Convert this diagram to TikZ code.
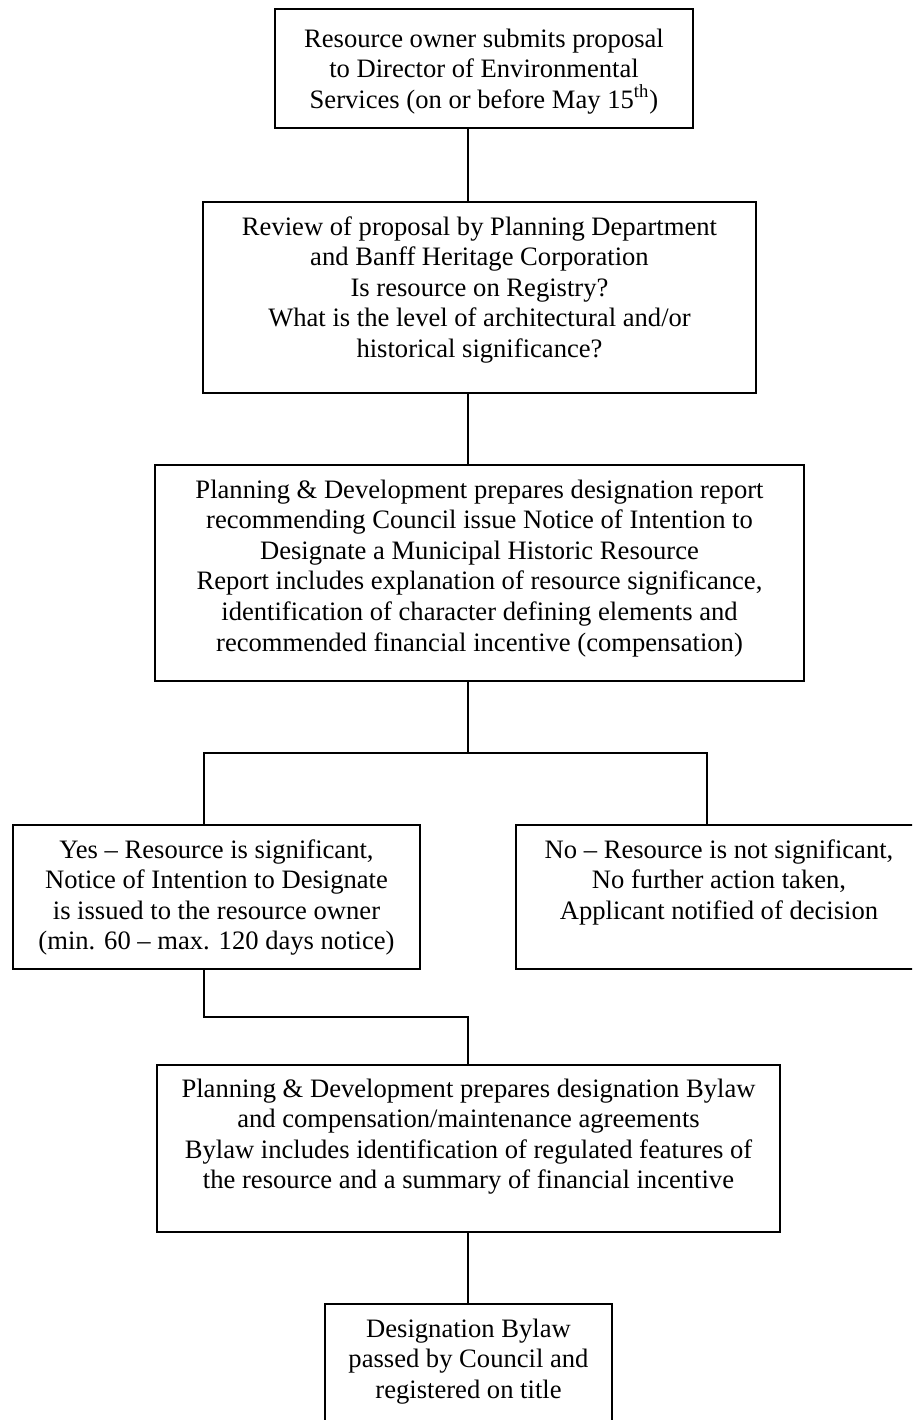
\documentclass[tikz,border=0pt]{standalone}
\usepackage{fontspec}
\setmainfont{Liberation Serif}
\newcommand{\btext}[4]{\parbox[c][#2][t]{#1}{\centering\vspace*{\dimexpr#3-\ht\strutbox\relax}\strut #4}}
\begin{document}
\begin{tikzpicture}[x=0.5pt,y=-0.5pt,
  box/.style={draw, line width=0.9pt, inner sep=0pt, outer sep=0pt, font=\fontsize{13.3pt}{15.3pt}\selectfont},
  conn/.style={draw, line width=0.9pt}]
\path[use as bounding box] (0,0) rectangle (912,1420);
\clip (0,0) rectangle (912,1420);
\fill[white] (0,0) rectangle (912,1420);

\node[box] (b1) at (484,68.5) {\btext{209pt}{59.5pt}{19pt}{Resource owner submits proposal\\ to Director of Environmental\\ Services (on or before May 15\textsuperscript{th})}};

\node[box] (b2) at (479.5,297.5) {\btext{276.5pt}{95.5pt}{16.5pt}{Review of proposal by Planning Department\\ and Banff Heritage Corporation\\ Is resource on Registry?\\ What is the level of architectural and/or\\ historical significance?}};

\node[box] (b3) at (479.5,573) {\btext{324.5pt}{108pt}{16.5pt}{Planning \& Development prepares designation report\\ recommending Council issue Notice of Intention to\\ Designate a Municipal Historic Resource\\ Report includes explanation of resource significance,\\ identification of character defining elements and\\ recommended financial incentive (compensation)}};

\node[box] (yes) at (216.5,897) {\btext{203.5pt}{72pt}{16.5pt}{Yes – Resource is significant,\\ Notice of Intention to Designate\\ is issued to the resource owner\\ (min. 60 – max. 120 days notice)}};

\node[box] (no) at (719,897) {\btext{203pt}{72pt}{16.5pt}{No – Resource is not significant,\\ No further action taken,\\ Applicant notified of decision}};

\node[box] (b5) at (468.5,1148.5) {\btext{311.5pt}{83.5pt}{16pt}{Planning \& Development prepares designation Bylaw\\ and compensation/maintenance agreements\\ Bylaw includes identification of regulated features of\\ the resource and a summary of financial incentive}};

\node[box] (b6) at (468.5,1377) {\btext{143.5pt}{73pt}{16.5pt}{Designation Bylaw\\ passed by Council and\\ registered on title}};

\coordinate (spine) at (468,0);
\coordinate (yx) at (204,0);
\coordinate (nx) at (707,0);
\coordinate (split) at (0,753);
\coordinate (join) at (0,1017);

\path[conn] (b1.south -| spine) -- (b2.north -| spine);
\path[conn] (b2.south -| spine) -- (b3.north -| spine);
\path[conn] (b3.south -| spine) -- (split -| spine);
\path[conn] (yes.north -| yx) -- (split -| yx) -- (split -| nx) -- (no.north -| nx);
\path[conn] (yes.south -| yx) -- (join -| yx) -- (join -| spine) -- (b5.north -| spine);
\path[conn] (b5.south -| spine) -- (b6.north -| spine);
\end{tikzpicture}
\end{document}
